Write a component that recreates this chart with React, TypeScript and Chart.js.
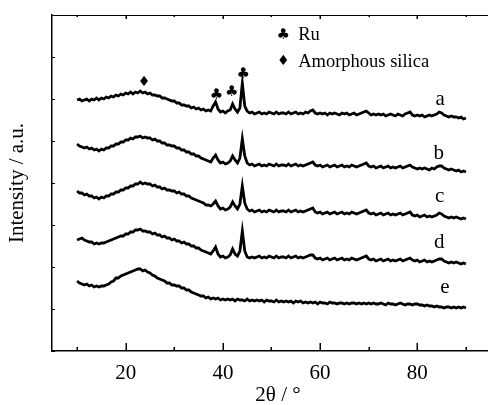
import React, { useEffect, useRef } from "react";
import { Chart, registerables } from "chart.js";

Chart.register(...registerables);

const FONT = "'Liberation Serif', 'Times New Roman', serif";
const SYMBOL_FONT = "'DejaVu Sans', sans-serif";

// 2θ grid (degrees)
const TWO_THETA = [
  10, 10.5, 11, 11.5, 12, 12.5, 13, 13.5, 14, 14.5,
  15, 15.5, 16, 16.5, 17, 17.5, 18, 18.5, 19, 19.5,
  20, 20.5, 21, 21.5, 22, 22.5, 23, 23.5, 24, 24.5,
  25, 25.5, 26, 26.5, 27, 27.5, 28, 28.5, 29, 29.5,
  30, 30.5, 31, 31.5, 32, 32.5, 33, 33.5, 34, 34.5,
  35, 35.5, 36, 36.5, 37, 37.5, 38, 38.5, 39, 39.5,
  40, 40.5, 41, 41.5, 42, 42.5, 43, 43.5, 44, 44.5,
  45, 45.5, 46, 46.5, 47, 47.5, 48, 48.5, 49, 49.5,
  50, 50.5, 51, 51.5, 52, 52.5, 53, 53.5, 54, 54.5,
  55, 55.5, 56, 56.5, 57, 57.5, 58, 58.5, 59, 59.5,
  60, 60.5, 61, 61.5, 62, 62.5, 63, 63.5, 64, 64.5,
  65, 65.5, 66, 66.5, 67, 67.5, 68, 68.5, 69, 69.5,
  70, 70.5, 71, 71.5, 72, 72.5, 73, 73.5, 74, 74.5,
  75, 75.5, 76, 76.5, 77, 77.5, 78, 78.5, 79, 79.5,
  80, 80.5, 81, 81.5, 82, 82.5, 83, 83.5, 84, 84.5,
  85, 85.5, 86, 86.5, 87, 87.5, 88, 88.5, 89, 89.5,
  90,
];

// Intensity (a.u., stacked offsets included)
const SERIES_A = [
  251, 252, 250, 251, 252, 250, 252, 251, 253, 251,
  253, 252, 254, 253, 255, 254, 256, 255, 257, 256,
  258, 257, 259, 257, 259, 258, 260, 258, 259, 257,
  258, 256, 256, 255, 255, 253, 253, 252, 251, 250,
  250, 248, 248, 246, 246, 245, 245, 243, 244, 242,
  243, 241, 242, 240, 241, 240, 245, 249, 242, 239,
  240, 238, 240, 241, 247, 242, 239, 243, 268, 245,
  240, 238, 239, 237, 238, 239, 237, 238, 237, 239,
  238, 237, 239, 237, 238, 238, 237, 239, 237, 238,
  239, 237, 238, 237, 239, 238, 240, 241, 238, 237,
  238, 237, 238, 236, 238, 237, 238, 237, 236, 238,
  237, 238, 236, 237, 238, 236, 237, 238, 239, 240,
  238, 236, 237, 236, 237, 236, 237, 235, 236, 237,
  236, 235, 237, 236, 235, 237, 238, 239, 236, 235,
  236, 235, 236, 234, 235, 236, 235, 236, 237, 239,
  238, 236, 235, 234, 235, 234, 234, 233, 234, 232,
  233,
];

const SERIES_B = [
  207, 205, 204, 203, 204, 202, 203, 201, 202, 200,
  202, 201, 203, 203, 205, 205, 207, 207, 209, 209,
  211, 211, 213, 212, 214, 214, 215, 213, 214, 213,
  213, 211, 212, 210, 210, 208, 208, 206, 206, 205,
  205, 203, 203, 201, 201, 199, 199, 197, 197, 195,
  195, 193, 192, 191, 190, 189, 193, 196, 191, 188,
  189, 187, 188, 190, 195, 191, 188, 193, 212, 195,
  188, 186, 187, 185, 186, 187, 185, 186, 185, 187,
  186, 185, 187, 185, 186, 186, 185, 187, 185, 186,
  187, 185, 186, 185, 186, 187, 188, 189, 186, 185,
  186, 184, 185, 186, 184, 185, 186, 184, 185, 186,
  184, 185, 184, 186, 185, 184, 185, 186, 187, 188,
  185, 184, 185, 183, 184, 185, 183, 184, 185, 183,
  184, 183, 184, 185, 183, 184, 185, 186, 184, 183,
  182, 183, 182, 183, 182, 181, 183, 182, 184, 185,
  185, 183, 182, 181, 182, 181, 180, 181, 179, 180,
  179,
];

const SERIES_C = [
  160, 158, 158, 156, 157, 155, 155, 153, 154, 152,
  154, 153, 155, 155, 157, 157, 159, 159, 161, 161,
  163, 163, 165, 165, 167, 167, 169, 167, 168, 167,
  167, 165, 166, 164, 164, 162, 163, 161, 161, 160,
  160, 158, 159, 157, 157, 155, 155, 153, 152, 151,
  150, 149, 148, 146, 146, 145, 147, 150, 145, 142,
  143, 141, 142, 144, 149, 145, 142, 147, 165, 148,
  142, 140, 141, 139, 140, 141, 139, 140, 139, 141,
  140, 139, 141, 139, 140, 140, 139, 141, 139, 140,
  141, 139, 140, 139, 140, 141, 142, 143, 139, 138,
  139, 137, 138, 139, 137, 138, 139, 137, 138, 139,
  137, 138, 137, 139, 138, 137, 138, 139, 140, 141,
  138, 137, 138, 136, 137, 138, 136, 137, 138, 136,
  137, 136, 137, 138, 136, 137, 138, 139, 136, 135,
  136, 134, 135, 136, 134, 135, 134, 135, 136, 138,
  137, 135, 134, 133, 134, 133, 134, 133, 132, 133,
  132,
];

const SERIES_D = [
  111, 112, 113, 111, 110, 109, 109, 107, 108, 107,
  108, 108, 109, 110, 111, 112, 113, 114, 115, 115,
  117, 117, 119, 119, 121, 121, 122, 120, 120, 119,
  119, 117, 118, 116, 116, 114, 115, 113, 113, 111,
  112, 110, 110, 108, 109, 107, 107, 105, 105, 103,
  103, 101, 100, 99, 98, 97, 100, 104, 97, 94,
  95, 93, 94, 96, 102, 97, 95, 100, 120, 100,
  94, 93, 94, 93, 94, 95, 93, 94, 93, 95,
  94, 93, 95, 93, 94, 94, 93, 95, 93, 94,
  95, 93, 94, 93, 94, 95, 96, 96, 93, 92,
  93, 91, 92, 93, 91, 92, 93, 91, 92, 93,
  91, 92, 91, 93, 92, 91, 92, 93, 94, 95,
  92, 91, 92, 90, 91, 92, 90, 91, 92, 90,
  91, 90, 91, 92, 90, 91, 92, 93, 91, 90,
  91, 89, 90, 91, 89, 90, 89, 90, 91, 92,
  92, 90, 89, 88, 89, 88, 89, 88, 87, 88,
  87,
];

const SERIES_E = [
  70, 68, 67, 66, 67, 65, 66, 64, 65, 64,
  65, 65, 66, 67, 69, 70, 73, 73, 75, 76,
  77, 78, 79, 80, 81, 82, 82, 80, 81, 79,
  78, 76, 75, 73, 72, 71, 70, 68, 68, 66,
  66, 65, 65, 63, 63, 61, 61, 59, 58, 57,
  56, 55, 55, 53, 54, 52, 53, 52, 53, 51,
  52, 51, 52, 51, 52, 50, 52, 51, 51, 50,
  52, 50, 51, 50, 51, 50, 51, 49, 51, 50,
  50, 49, 51, 49, 50, 49, 50, 49, 50, 48,
  50, 49, 50, 48, 49, 48, 49, 48, 49, 47,
  49, 48, 48, 47, 49, 48, 48, 47, 48, 48,
  47, 48, 47, 48, 48, 47, 48, 47, 48, 47,
  48, 47, 48, 47, 47, 48, 47, 46, 48, 47,
  47, 46, 47, 48, 47, 46, 47, 47, 46, 47,
  47, 46, 46, 45, 46, 45, 45, 44, 45, 44,
  44, 43, 44, 44, 43, 44, 43, 44, 43, 44,
  43,
];

const SERIES = [SERIES_A, SERIES_B, SERIES_C, SERIES_D, SERIES_E];
const SERIES_NAMES = ["a", "b", "c", "d", "e"];
// label anchor (2θ, intensity baseline) for each trace letter
const LABEL_X = [84.7, 84.4, 84.6, 84.5, 85.7];
const LABEL_Y = [246, 191.7, 149.3, 102.7, 57.7];

const X_LABELED = [20, 40, 60, 80];

// phase markers above peaks
const MARKER_SYMBOLS = ["♦", "♣", "♣", "♣"];
const MARKER_X = [23.8, 38.7, 41.8, 44.2];
const MARKER_Y = [269, 256, 259, 277];

// legend
const LEGEND_SYMBOLS = ["♣", "♦"];
const LEGEND_TEXTS = ["Ru", "Amorphous silica"];
const LEGEND_X = 52.4;
const LEGEND_Y = [316, 289.3];

const annotPlugin = {
  id: "annot",
  afterDraw(chart: any) {
    const { ctx, chartArea } = chart;
    const xs = chart.scales.x;
    const ys = chart.scales.y;
    ctx.save();
    ctx.strokeStyle = "#000";
    ctx.fillStyle = "#000";
    // top frame line
    ctx.lineWidth = 1;
    ctx.beginPath();
    ctx.moveTo(chartArea.left, chartArea.top + 0.5);
    ctx.lineTo(chartArea.right, chartArea.top + 0.5);
    ctx.stroke();
    // x ticks (inward), bottom & top
    ctx.lineWidth = 1.5;
    ctx.beginPath();
    xs.ticks.forEach((t: any) => {
      const px = Math.round(xs.getPixelForValue(t.value)) + 0.25;
      const major = t.value % 20 === 0;
      const lb = major ? 8 : 4;
      const lt = major ? 4 : 2;
      ctx.moveTo(px, chartArea.bottom);
      ctx.lineTo(px, chartArea.bottom - lb);
      ctx.moveTo(px, chartArea.top);
      ctx.lineTo(px, chartArea.top + lt);
    });
    ctx.stroke();
    // y ticks (inward)
    ctx.lineWidth = 1;
    ctx.beginPath();
    ys.ticks.forEach((t: any) => {
      const py = Math.round(ys.getPixelForValue(t.value)) + 0.5;
      ctx.moveTo(chartArea.left, py);
      ctx.lineTo(chartArea.left + 3, py);
    });
    ctx.stroke();

    // trace letters
    ctx.font = `21px ${FONT}`;
    ctx.textAlign = "center";
    ctx.textBaseline = "alphabetic";
    SERIES_NAMES.forEach((n, i) => {
      ctx.fillText(n, xs.getPixelForValue(LABEL_X[i]), ys.getPixelForValue(LABEL_Y[i]));
    });

    // peak markers
    ctx.textBaseline = "middle";
    MARKER_SYMBOLS.forEach((s, i) => {
      ctx.font = `${s === "♣" ? 15 : 14}px ${SYMBOL_FONT}`;
      ctx.fillText(s, xs.getPixelForValue(MARKER_X[i]), ys.getPixelForValue(MARKER_Y[i]));
    });

    // legend
    const lx = xs.getPixelForValue(LEGEND_X);
    LEGEND_SYMBOLS.forEach((s, i) => {
      const py = ys.getPixelForValue(LEGEND_Y[i]);
      ctx.textAlign = "center";
      ctx.font = `${s === "♣" ? 15 : 14}px ${SYMBOL_FONT}`;
      ctx.fillText(s, lx, py);
      ctx.textAlign = "left";
      ctx.font = `18.5px ${FONT}`;
      ctx.fillText(LEGEND_TEXTS[i], lx + 15, py);
    });
    ctx.restore();
  },
};

export default function App() {
  const ref = useRef<HTMLCanvasElement | null>(null);
  useEffect(() => {
    if (!ref.current) return;
    const datasets = SERIES.map((s, k) => ({
      label: SERIES_NAMES[k],
      data: TWO_THETA.map((x, i) => ({ x, y: s[i] })),
      borderColor: "#000",
      backgroundColor: "#000",
      borderWidth: 2.8,
      pointRadius: 0,
      tension: 0,
      fill: false,
    }));
    const chart = new Chart(ref.current, {
      type: "line",
      data: { datasets },
      plugins: [annotPlugin],
      options: {
        animation: false,
        responsive: false,
        devicePixelRatio: 1,
        layout: { padding: { top: 15, left: 0, right: 0, bottom: 0 } },
        plugins: { legend: { display: false }, tooltip: { enabled: false } },
        scales: {
          x: {
            type: "linear",
            min: 4.84,
            max: 97.84,
            grid: { display: false, drawTicks: false },
            border: { display: true, color: "#000", width: 1.5 },
            ticks: {
              stepSize: 10,
              includeBounds: false,
              autoSkip: false,
              maxRotation: 0,
              padding: 10,
              color: "#000",
              font: { family: FONT, size: 21 },
              callback: (v: any) => (X_LABELED.includes(Number(v)) ? String(v) : ""),
            },
            title: {
              display: true,
              text: "2θ / °",
              color: "#000",
              font: { family: FONT, size: 21, lineHeight: 0.95 },
              padding: 0,
            },
            afterFit: (s: any) => {
              s.height = 54;
            },
          },
          y: {
            type: "linear",
            min: 0,
            max: 336,
            grid: { display: false, drawTicks: false },
            border: { display: true, color: "#000", width: 1.5 },
            ticks: { display: false, stepSize: 42 },
            title: {
              display: true,
              text: "Intensity / a.u.",
              color: "#000",
              font: { family: FONT, size: 21 },
              padding: { top: 5, bottom: 0 },
            },
            afterFit: (s: any) => {
              s.width = 52;
            },
          },
        },
      },
    } as any);
    return () => chart.destroy();
  }, []);
  return (
    <div
      style={{
        position: "absolute",
        left: 0,
        top: 0,
        width: 488,
        height: 405,
        overflow: "hidden",
        background: "#fff",
      }}
    >
      <canvas ref={ref} width={504} height={405} style={{ display: "block" }} />
    </div>
  );
}
